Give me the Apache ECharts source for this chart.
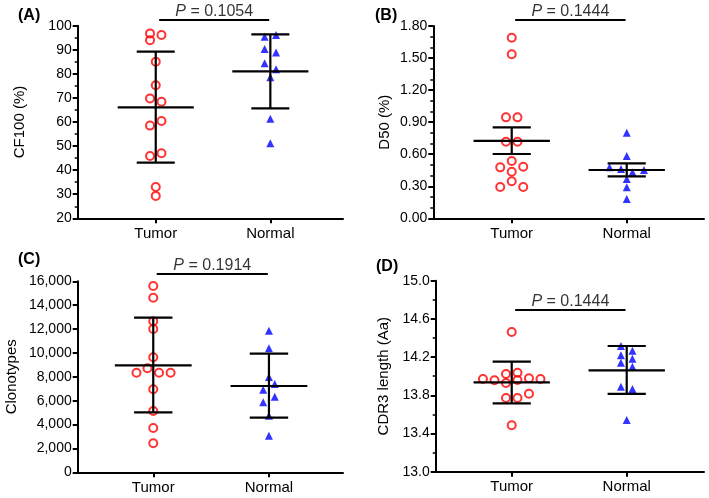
<!DOCTYPE html>
<html>
<head>
<meta charset="utf-8">
<script src="https://cdn.jsdelivr.net/npm/echarts@6/dist/echarts.min.js"></script>
<style>html,body{margin:0;padding:0;background:#fff}#c{width:709px;height:498px}</style>
</head>
<body>
<div id="c"></div>
<script>
const categories = ['Tumor', 'Normal'];

// Panel A: CF100 (%)
const aTumor = [96.8, 94.0, 96.1, 85.0, 75.3, 69.8, 68.4, 58.5, 60.4, 45.9, 47.0, 33.0, 29.3];
const aTumorJitter = [-0.05, -0.05, 0.05, 0, 0, -0.05, 0.05, -0.05, 0.05, -0.05, 0.05, 0, 0];
const aNormal = [95.4, 96.1, 90.3, 88.9, 84.4, 81.9, 78.6, 61.4, 51.2];
const aNormalJitter = [-0.05, 0.05, -0.05, 0.05, -0.05, 0.05, 0, 0, 0];
const aStats = [[66.1, 43.1, 89.2], [81.0, 65.7, 96.4]]; // mean, lower, upper
const aP = 'P = 0.1054';
const aPLevel = 102.4;

// Panel B: D50 (%)
const bTumor = [1.69, 1.535, 0.945, 0.945, 0.717, 0.717, 0.536, 0.477, 0.483, 0.436, 0.346, 0.293, 0.293];
const bTumorJitter = [0, 0, -0.05, 0.05, -0.05, 0.05, 0, -0.1, 0.1, 0, 0, -0.1, 0.1];
const bNormal = [0.801, 0.583, 0.477, 0.461, 0.431, 0.452, 0.368, 0.290, 0.181];
const bNormalJitter = [0, 0, -0.15, -0.05, 0.05, 0.15, 0, 0, 0];
const bStats = [[0.724, 0.602, 0.852], [0.452, 0.393, 0.515]];
const bP = 'P = 0.1444';
const bPLevel = 1.856;

// Panel C: Clonotypes
const cTumor = [15606, 14626, 12649, 12004, 9633, 8712, 8343, 8343, 8343, 6953, 5135, 3714, 2429];
const cTumorJitter = [0, 0, 0, 0, 0, -0.05, -0.145, 0.05, 0.15, 0, 0, 0, 0];
const cNormal = [11862, 10387, 7983, 7397, 6919, 6333, 5864, 4741, 3071];
const cNormalJitter = [0, 0, 0, 0.05, -0.05, 0.05, -0.05, 0, 0];
const cStats = [[8963, 5026, 12951], [7229, 4574, 9935]];
const cP = 'P = 0.1914';
const cPLevel = 16611;

// Panel D: CDR3 length (Aa)
const dTumor = [14.463, 13.971, 13.957, 14.023, 13.929, 14.037, 13.960, 13.978, 13.971, 13.772, 13.772, 13.817, 13.486];
const dTumorJitter = [0, -0.25, -0.15, -0.05, -0.05, 0.05, 0.05, 0.15, 0.25, -0.05, 0.05, 0.15, 0];
const dNormal = [14.316, 14.267, 14.219, 14.184, 14.141, 14.099, 13.890, 13.866, 13.541];
const dNormalJitter = [-0.05, 0.05, -0.05, 0.05, -0.05, 0.05, -0.05, 0.05, 0];
const dStats = [[13.936, 13.716, 14.152], [14.062, 13.814, 14.316]];
const dP = 'P = 0.1444';
const dPLevel = 14.693;

const FONT = 'Liberation Sans, Arial, Helvetica, sans-serif';
const INK = '#000';

const panels = [
  {label: '(A)', name: 'CF100 (%)', tumor: aTumor, tj: aTumorJitter, normal: aNormal, nj: aNormalJitter, stats: aStats, p: aP, pl: aPLevel,
   grid: {left: 77.7, top: 25.7, width: 265.3, height: 192.6}, xr: [-0.681, 1.634],
   y: {min: 20, max: 100, interval: 10, minor: 2, fmt: v => String(v)}, gap: 50, title: {left: 13, top: 3}},
  {label: '(B)', name: 'D50 (%)', tumor: bTumor, tj: bTumorJitter, normal: bNormal, nj: bNormalJitter, stats: bStats, p: bP, pl: bPLevel,
   grid: {left: 433.3, top: 26, width: 270.7, height: 192.3}, xr: [-0.682, 1.672],
   y: {min: 0, max: 1.8, interval: 0.3, minor: 3, fmt: v => v.toFixed(2)}, gap: 41, title: {left: 370, top: 3}},
  {label: '(C)', name: 'Clonotypes', tumor: cTumor, tj: cTumorJitter, normal: cNormal, nj: cNormalJitter, stats: cStats, p: cP, pl: cPLevel,
   grid: {left: 77.7, top: 281.3, width: 265.3, height: 191}, xr: [-0.653, 1.64],
   y: {min: 0, max: 16000, interval: 2000, minor: 0, fmt: v => Math.round(v).toLocaleString('en-US')}, gap: 58, title: {left: 13, top: 247}},
  {label: '(D)', name: 'CDR3 length (Aa)', tumor: dTumor, tj: dTumorJitter, normal: dNormal, nj: dNormalJitter, stats: dStats, p: dP, pl: dPLevel,
   grid: {left: 435.7, top: 280.7, width: 268.3, height: 191}, xr: [-0.661, 1.672],
   y: {min: 13, max: 15, interval: 0.4, minor: 2, fmt: v => v.toFixed(1)}, gap: 44, title: {left: 371, top: 254}}
];

const option = {
  animation: false,
  backgroundColor: '#fff',
  title: [], grid: [], xAxis: [], yAxis: [], series: []
};

panels.forEach((p, i) => {
  option.title.push({text: p.label, left: p.title.left, top: p.title.top,
    textStyle: {fontFamily: FONT, fontSize: 16, fontWeight: 'bold', color: INK}});
  option.grid.push(Object.assign({containLabel: false}, p.grid));
  option.xAxis.push({
    type: 'value', gridIndex: i, min: p.xr[0], max: p.xr[1],
    axisLine: {show: true, onZero: false, lineStyle: {color: INK, width: 2}},
    axisTick: {show: true, customValues: [0, 1], length: 5, lineStyle: {color: INK, width: 2}},
    axisLabel: {show: true, customValues: [0, 1], margin: 8, formatter: v => categories[Math.round(v)],
      fontFamily: FONT, fontSize: 15, color: INK},
    splitLine: {show: false}
  });
  option.yAxis.push({
    type: 'value', gridIndex: i, min: p.y.min, max: p.y.max, interval: p.y.interval,
    name: p.name, nameLocation: 'middle', nameGap: p.gap,
    nameTextStyle: {fontFamily: FONT, fontSize: 15, color: INK},
    axisLine: {show: true, onZero: false, lineStyle: {color: INK, width: 2}},
    axisTick: {show: true, length: 5, lineStyle: {color: INK, width: 2}},
    minorTick: {show: p.y.minor > 0, splitNumber: p.y.minor || 2, length: 3, lineStyle: {color: INK, width: 1.5}},
    axisLabel: {margin: 6, formatter: p.y.fmt, fontFamily: FONT, fontSize: 14, color: INK},
    splitLine: {show: false}, minorSplitLine: {show: false}
  });
  // points
  option.series.push({
    type: 'scatter', xAxisIndex: i, yAxisIndex: i, z: 2,
    symbol: 'circle', symbolSize: 8,
    itemStyle: {color: 'rgba(255,255,255,0)', borderColor: '#ff0000', borderWidth: 2},
    data: p.tumor.map((v, k) => [0 + p.tj[k], v])
  });
  option.series.push({
    type: 'scatter', xAxisIndex: i, yAxisIndex: i, z: 2,
    symbol: 'triangle', symbolSize: 8,
    itemStyle: {color: '#0000ff'},
    data: p.normal.map((v, k) => [1 + p.nj[k], v])
  });
  // mean and error bars
  option.series.push({
    type: 'custom', xAxisIndex: i, yAxisIndex: i, z: 5,
    encode: {x: 0, y: 1},
    data: p.stats.map((s, k) => [k, s[0], s[1], s[2]]),
    renderItem: function (params, api) {
      const x = api.value(0), m = api.value(1), lo = api.value(2), hi = api.value(3);
      const W = 0.332, C = 0.166;
      const seg = (a, b) => {
        const p1 = api.coord(a), p2 = api.coord(b);
        return {type: 'line', shape: {x1: p1[0], y1: p1[1], x2: p2[0], y2: p2[1]},
          style: {stroke: '#000', lineWidth: 2.2}};
      };
      return {type: 'group', children: [
        seg([x - W, m], [x + W, m]),
        seg([x, lo], [x, hi]),
        seg([x - C, lo], [x + C, lo]),
        seg([x - C, hi], [x + C, hi])
      ]};
    }
  });
  // significance bar
  option.series.push({
    type: 'line', xAxisIndex: i, yAxisIndex: i, clip: false, z: 5,
    symbol: 'none', lineStyle: {color: '#000', width: 2},
    data: [[0.03, p.pl], [0.99, p.pl]]
  });
  option.series.push({
    type: 'scatter', xAxisIndex: i, yAxisIndex: i, clip: false, symbolSize: 0, z: 5,
    silent: true,
    label: {show: true, position: 'top', distance: 0,
      formatter: () => '{i|P}' + p.p.slice(1),
      fontFamily: FONT, fontSize: 16, color: INK,
      rich: {i: {fontStyle: 'italic', fontFamily: FONT, fontSize: 16, color: INK}}},
    data: [[0.51, p.pl]]
  });
});

const chart = echarts.init(document.getElementById('c'), null, {renderer: 'canvas'});
chart.setOption(option);
</script>
</body>
</html>
